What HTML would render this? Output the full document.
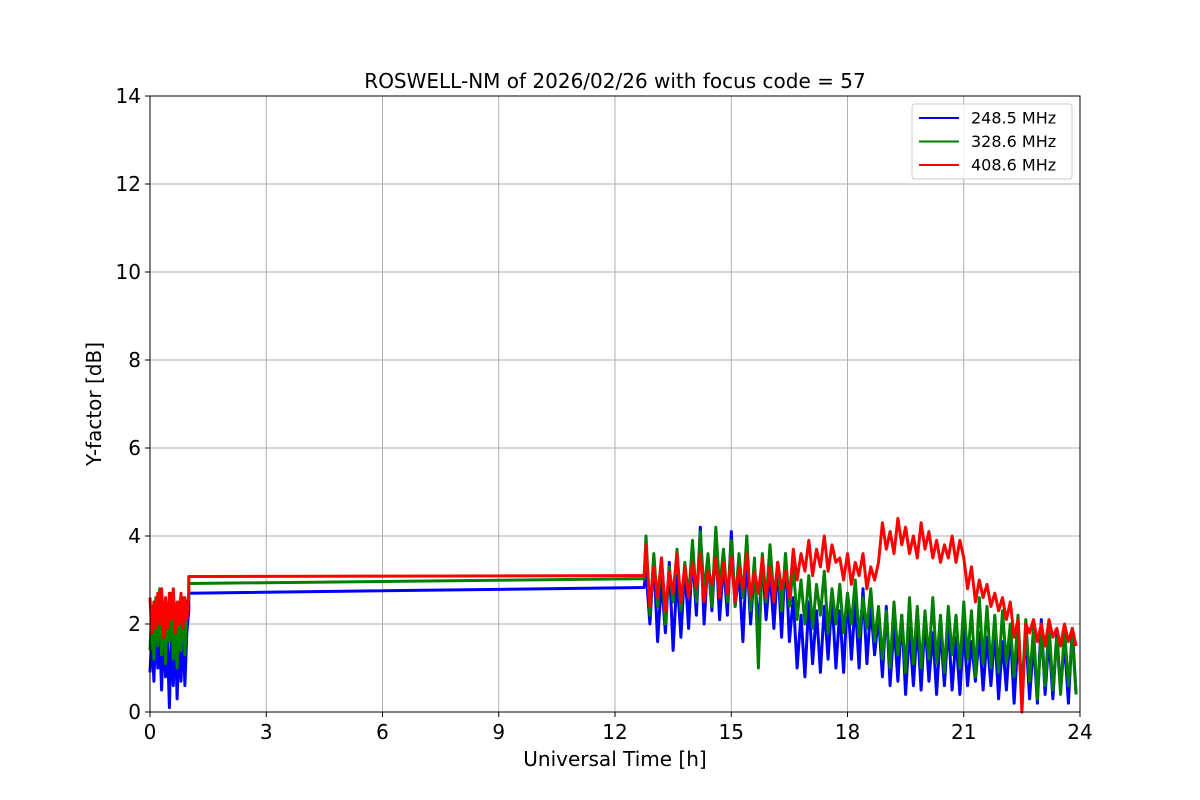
<!DOCTYPE html>
<html><head><meta charset="utf-8"><style>
body{margin:0;background:#fff;}
svg{display:block;font-family:"DejaVu Sans","Liberation Sans",sans-serif;}
</style></head><body>
<svg id="chart" width="1200" height="800" viewBox="0 0 1200 800" xmlns="http://www.w3.org/2000/svg">
<rect width="1200" height="800" fill="#fff"/>
<g id="grid"></g><g id="series"></g><g id="axes"></g>
<text x="615" y="88" text-anchor="middle" font-size="20">ROSWELL-NM of 2026/02/26 with focus code = 57</text>
<text x="615" y="766" text-anchor="middle" font-size="20">Universal Time [h]</text>
<text transform="translate(101,404) rotate(-90)" text-anchor="middle" font-size="20">Y-factor [dB]</text>
<g id="legend"></g>
</svg>
<script>
const xTicks=[0,3,6,9,12,15,18,21,24];
const yTicks=[0,2,4,6,8,10,12,14];
const labels=["248.5 MHz","328.6 MHz","408.6 MHz"];
const colors=["#0000ff","#008000","#ff0000"];
const earlyStart=0, earlyStep=0.05;
const lateStart=12.8, lateStep=0.1;
const bridgeT=[1.0,12.75];
const blueEarly=[0.9,1.8,0.7,2.0,1.0,1.7,0.5,1.9,0.8,1.6,0.1,1.8,0.6,2.0,0.3,1.7,0.7,1.9,0.6,1.8,2.3];
const greenEarly=[1.4,2.4,1.2,2.6,1.5,2.8,1.3,2.5,1.1,2.4,1.6,2.7,1.2,2.3,1.0,2.5,1.4,2.6,1.3,2.4,2.6];
const redEarly=[2.6,1.8,2.5,1.9,2.7,2.0,2.8,1.7,2.6,1.9,2.7,2.1,2.8,1.8,2.5,2.0,2.7,1.9,2.6,2.1,2.7];
const blueBridge=[2.7,2.83];
const greenBridge=[2.92,3.03];
const redBridge=[3.08,3.1];
const blueLate=[3.2,2.0,3.5,1.6,3.0,1.8,3.4,1.4,3.1,1.7,
3.3,1.9,3.6,2.2,4.2,2.0,3.5,2.3,3.8,2.1,
3.4,2.2,4.1,2.4,3.2,1.6,3.6,2.0,3.3,1.8,
3.5,2.1,3.2,1.9,3.4,1.7,3.6,1.6,2.6,1.0,
2.2,0.8,2.5,1.1,2.3,0.9,2.4,1.2,2.6,1.0,
2.3,0.9,2.7,1.2,2.5,1.0,2.8,1.1,2.4,1.3,
2.2,0.8,2.4,0.6,2.0,0.7,2.2,0.4,1.9,0.6,
2.0,0.5,2.1,0.7,1.8,0.4,1.9,0.6,2.0,0.5,
1.7,0.4,1.9,0.6,1.6,0.7,1.8,0.5,1.7,0.6,
1.8,0.3,1.6,0.5,1.9,0.2,1.7,0.4,1.8,0.3,
1.6,0.2,2.1,0.4,1.7,0.3,1.8,0.5,1.6,0.2,
1.9,0.4];
const greenLate=[4.0,2.2,3.6,2.4,3.5,2.0,3.3,2.5,3.7,2.3,
3.4,2.6,3.9,2.5,4.1,2.7,3.6,2.4,4.2,2.8,
3.7,2.5,3.9,2.4,3.6,2.6,4.0,2.3,3.5,1.0,
3.6,2.5,3.8,2.6,3.4,2.3,3.6,2.4,3.3,2.1,
3.0,2.0,3.1,1.9,2.9,2.2,3.2,1.8,2.8,2.0,
2.9,1.8,2.7,2.0,3.0,1.7,2.6,1.9,2.8,1.6,
2.4,1.2,2.3,1.0,2.5,1.3,2.2,0.9,2.6,1.1,
2.4,1.0,2.3,1.2,2.6,1.1,2.2,0.9,2.4,1.3,
2.2,1.0,2.5,1.2,2.3,0.8,2.6,1.1,2.4,1.0,
2.2,0.9,2.3,1.1,2.0,0.8,2.2,0.4,2.1,0.7,
1.9,0.3,1.8,0.6,2.0,0.5,1.7,0.4,1.9,0.6,
1.7,0.4];
const redLate=[3.8,2.4,3.3,2.6,3.5,2.3,3.2,2.7,3.6,2.5,
3.3,2.6,3.4,2.8,3.6,2.5,3.2,2.9,3.5,2.6,
3.4,2.7,3.5,2.5,3.3,2.8,3.6,2.6,3.2,2.7,
3.5,2.6,3.3,2.5,3.4,2.8,3.2,2.6,3.7,3.0,
3.6,3.2,3.9,3.1,3.7,3.3,4.0,3.2,3.8,3.4,
3.5,3.0,3.6,2.9,3.4,3.1,3.6,2.8,3.3,3.0,
3.4,4.3,3.7,4.1,3.6,4.4,3.8,4.2,3.6,4.0,
3.5,4.3,3.7,4.1,3.5,3.9,3.4,3.8,3.5,4.0,
3.4,3.9,3.5,2.8,3.3,2.5,3.0,2.6,2.9,2.4,
2.7,2.3,2.6,2.1,2.5,1.7,2.1,0.0,2.0,1.8,
2.1,1.6,2.0,1.5,2.1,1.7,1.9,1.5,2.0,1.6,
1.9,1.5];

const L=150,R=1080,T=96,B=712;
const xs=t=>L+(t/24)*(R-L);
const ys=v=>B-(v/14)*(B-T);
const NS="http://www.w3.org/2000/svg";
function mk(tag,attrs,parent){const e=document.createElementNS(NS,tag);for(const k in attrs)e.setAttribute(k,attrs[k]);parent.appendChild(e);return e;}
const grid=document.getElementById('grid'),axes=document.getElementById('axes'),ser=document.getElementById('series'),leg=document.getElementById('legend');
xTicks.forEach(t=>{
 const g=mk('line',{x1:xs(t),x2:xs(t),y1:T,y2:B,stroke:'#b0b0b0','stroke-width':1},grid);
 
 
 mk('line',{x1:xs(t),x2:xs(t),y1:B,y2:B+5,stroke:'#000','stroke-width':1},axes);
 const tx=mk('text',{x:xs(t),y:B+27,'text-anchor':'middle','font-size':20},axes);
 
 
 tx.textContent=t;
});
yTicks.forEach(v=>{
 const g=mk('line',{x1:L,x2:R,y1:ys(v),y2:ys(v),stroke:'#b0b0b0','stroke-width':1},grid);
 
 
 mk('line',{x1:L-5,x2:L,y1:ys(v),y2:ys(v),stroke:'#000','stroke-width':1},axes);
 const tx=mk('text',{x:L-9,y:ys(v)+7,'text-anchor':'end','font-size':20},axes);
 
 
 tx.textContent=v;
});
const frame=mk('rect',{x:L,y:T,width:R-L,height:B-T,fill:'none',stroke:'#000','stroke-width':1},axes);


const sets=[[blueEarly,blueBridge,blueLate],[greenEarly,greenBridge,greenLate],[redEarly,redBridge,redLate]];
const names=['series-248-5-mhz','series-328-6-mhz','series-408-6-mhz'];
sets.forEach((s,i)=>{
 const pts=[];
 s[0].forEach((v,j)=>pts.push([earlyStart+j*earlyStep,v]));
 s[1].forEach((v,j)=>pts.push([bridgeT[j],v]));
 s[2].forEach((v,j)=>pts.push([lateStart+j*lateStep,v]));
 const d=pts.map((p,j)=>(j?'L':'M')+xs(p[0]).toFixed(1)+','+ys(p[1]).toFixed(1)).join('');
 const p=mk('path',{d:d,fill:'none',stroke:colors[i],'stroke-width':3,'stroke-linejoin':'round'},ser);
 
 
});
mk('rect',{x:912,y:104,width:160,height:75,rx:3,fill:'#fff','fill-opacity':0.8,stroke:'#ccc'},leg);
labels.forEach((lb,i)=>{
 const y=118+i*23.5;
 const ln=mk('line',{x1:919,x2:959,y1:y,y2:y,stroke:colors[i],'stroke-width':2},leg);
 
 
 const tx=mk('text',{x:971,y:y+5.5,'font-size':16},leg);
 
 
 tx.textContent=lb;
});
</script>
</body></html>
